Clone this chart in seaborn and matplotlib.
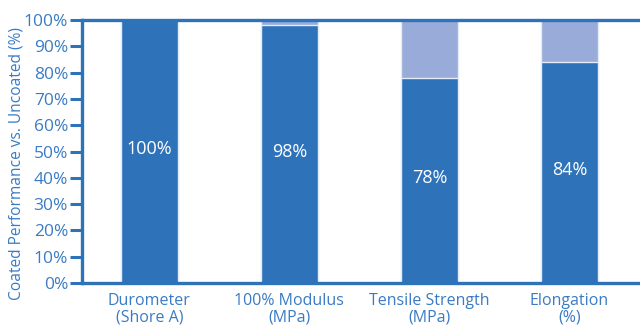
import matplotlib
matplotlib.use("Agg")
import matplotlib.pyplot as plt
import seaborn as sns
import pandas as pd
import numpy as np

categories = ["Durometer\n(Shore A)", "100% Modulus\n(MPa)", "Tensile Strength\n(MPa)", "Elongation\n(%)"]
coated_pct = [100, 98, 78, 84]
uncoated_pct = [100, 100, 100, 100]
y_ticks = list(range(0, 101, 10))

DARK = "#2e73ba"
LIGHT = "#98abd9"
TEXT = "#3a7bc4"

sns.set_theme(style="white")
plt.rcParams["font.family"] = ["Open Sans", "DejaVu Sans"]

df = pd.DataFrame({"category": categories, "coated": coated_pct, "uncoated": uncoated_pct})

fig = plt.figure(figsize=(6.4, 3.32), dpi=100)
ax = fig.add_axes([0.128, 0.1476, 0.875, 0.792])

sns.barplot(data=df, x="category", y="uncoated", color=LIGHT, width=0.41,
            saturation=1, edgecolor="#e4ecf7", linewidth=1.0, ax=ax)
sns.barplot(data=df, x="category", y="coated", color=DARK, width=0.41,
            saturation=1, edgecolor="#e4ecf7", linewidth=1.0, ax=ax)

for i, v in enumerate(coated_pct):
    ax.text(i, v / 2 + 1.0, f"{v}%", ha="center", va="center",
            color="white", fontsize=13)

x0 = -0.482
ax.set_xlim(x0, x0 + len(categories))
ax.set_ylim(0, 100)
ax.set_yticks(y_ticks)
ax.set_yticklabels([f"{t}%" for t in y_ticks])
ax.set_xlabel("")
ax.set_ylabel("Coated Performance vs. Uncoated (%)", color=TEXT, fontsize=11.2)
ax.yaxis.set_label_coords(-0.102, 0.455)

# boundary ticks between categories
ax.set_xticks(x0 + np.arange(0, len(categories) + 1), minor=True)
ax.tick_params(axis="x", which="major", length=0, pad=7, labelsize=11.5, labelcolor=TEXT)
ax.tick_params(axis="x", which="minor", length=8, width=2.2, color=DARK, direction="out")
ax.tick_params(axis="y", length=9, width=2.2, color=DARK, direction="out",
               labelsize=12.5, labelcolor=TEXT, left=True, pad=1)
for lbl in ax.get_xticklabels():
    lbl.set_linespacing(1.05)

for side in ["left", "bottom", "top"]:
    ax.spines[side].set_color(DARK)
    ax.spines[side].set_linewidth(2.4)
    ax.spines[side].set_visible(True)
ax.spines["right"].set_visible(False)
ax.grid(False)

fig.savefig("out.png", dpi=100)
